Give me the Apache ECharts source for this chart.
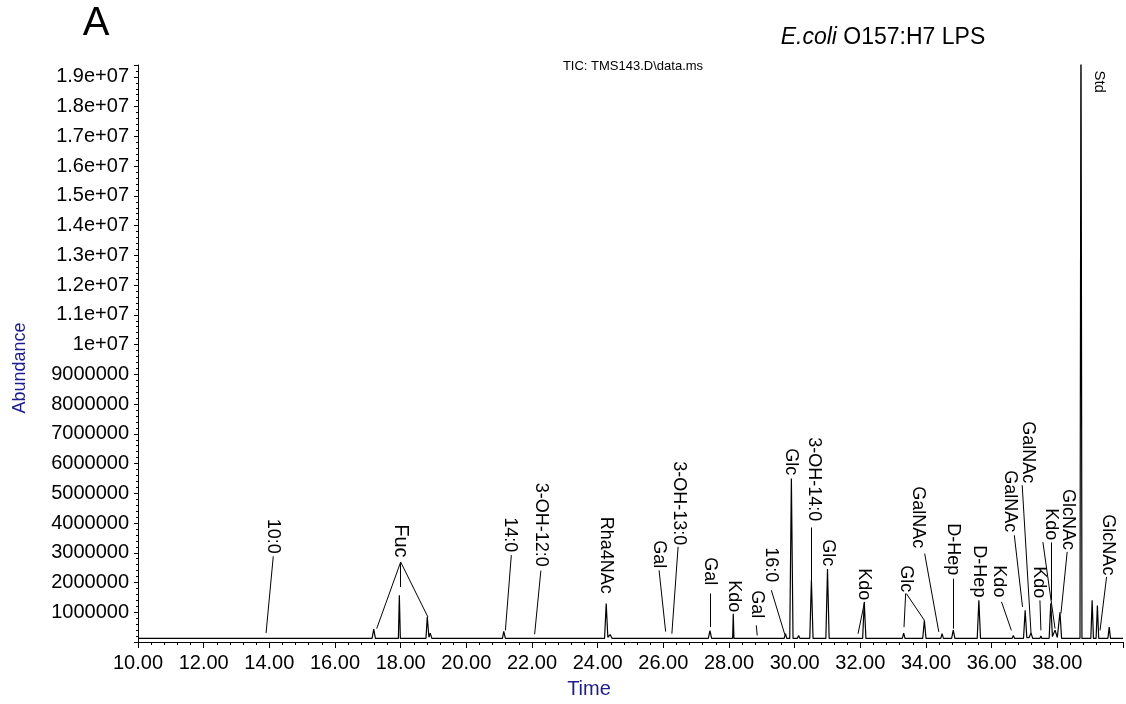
<!DOCTYPE html>
<html>
<head>
<meta charset="utf-8">
<title>E.coli O157:H7 LPS TIC</title>
<script src="https://cdn.jsdelivr.net/npm/echarts@6.0.0/dist/echarts.min.js"></script>
<style>
  html, body { margin: 0; padding: 0; background: #ffffff; }
  #chart { width: 1126px; height: 704px; }
</style>
</head>
<body>
<div id="chart"></div>
<script>
// ---- Data (time in min, abundance in counts) ----
const tracePoints = [
  [10.00, 1.2e5], [10.65, 1.2e5], [10.68, 1.6e5], [10.71, 1.2e5],
  [13.79, 1.2e5], [13.84, 1.7e5], [13.89, 1.2e5],
  [14.93, 1.2e5], [14.96, 1.6e5], [14.99, 1.2e5],
  [17.13, 1.2e5], [17.18, 4.3e5], [17.23, 1.2e5],
  [17.93, 1.2e5], [17.96, 1.57e6], [17.99, 1.2e5],
  [18.77, 1.2e5], [18.81, 8.4e5], [18.86, 1.6e5], [18.90, 3.0e5], [18.95, 1.2e5],
  [19.79, 1.2e5], [19.82, 1.6e5], [19.85, 1.2e5],
  [21.10, 1.2e5], [21.14, 3.6e5], [21.19, 1.2e5],
  [22.07, 1.2e5], [22.10, 1.5e5], [22.13, 1.2e5],
  [22.55, 1.2e5], [22.58, 1.6e5], [22.61, 1.2e5],
  [24.21, 1.2e5], [24.26, 1.29e6], [24.31, 1.6e5], [24.38, 2.5e5], [24.44, 1.2e5],
  [26.02, 1.2e5], [26.06, 1.6e5], [26.10, 1.2e5],
  [26.20, 1.2e5], [26.24, 1.4e5], [26.28, 1.2e5],
  [27.37, 1.2e5], [27.42, 3.8e5], [27.47, 1.2e5],
  [28.11, 1.2e5], [28.13, 9.5e5], [28.15, 1.2e5],
  [28.83, 1.2e5], [28.87, 1.7e5], [28.91, 1.2e5],
  [29.68, 1.2e5], [29.72, 2.8e5], [29.76, 1.2e5],
  [29.85, 1.2e5], [29.90, 5.5e6], [29.95, 1.2e5],
  [30.08, 1.2e5], [30.12, 2.2e5], [30.16, 1.2e5],
  [30.46, 1.2e5], [30.51, 2.08e6], [30.56, 1.2e5],
  [30.95, 1.2e5], [31.00, 2.45e6], [31.05, 1.2e5],
  [31.87, 1.2e5], [31.90, 1.5e5], [31.93, 1.2e5],
  [32.07, 1.2e5], [32.12, 1.34e6], [32.17, 1.2e5],
  [33.28, 1.2e5], [33.32, 3.0e5], [33.36, 1.2e5],
  [33.90, 1.2e5], [33.95, 7.3e5], [34.00, 1.2e5],
  [34.45, 1.2e5], [34.49, 2.8e5], [34.53, 1.2e5],
  [34.78, 1.2e5], [34.83, 4.0e5], [34.88, 1.2e5],
  [35.56, 1.2e5], [35.61, 1.4e6], [35.66, 1.2e5],
  [36.62, 1.2e5], [36.66, 2.2e5], [36.70, 1.2e5],
  [36.97, 1.2e5], [37.02, 1.07e6], [37.07, 1.5e5], [37.14, 1.5e5], [37.20, 3.0e5], [37.25, 1.2e5],
  [37.47, 1.2e5], [37.50, 2.0e5], [37.53, 1.2e5],
  [37.75, 1.2e5], [37.80, 1.3e6], [37.85, 1.8e5], [37.93, 4.0e5], [38.00, 1.5e5], [38.08, 1.0e6], [38.13, 1.2e5],
  [38.69, 1.2e5], [38.72, 2.2e7], [38.75, 1.2e5],
  [39.02, 1.2e5], [39.06, 1.4e6], [39.10, 1.2e5],
  [39.18, 1.2e5], [39.22, 1.23e6], [39.26, 1.2e5],
  [39.54, 1.2e5], [39.58, 5.0e5], [39.62, 1.2e5],
  [40.00, 1.2e5]
];

// Peak annotation labels: text, time of label centre, abundance at label foot
const labelText = ['10:0', 'Fuc', '14:0', '3-OH-12:0', 'Rha4NAc', 'Gal', '3-OH-13:0', 'Gal', 'Kdo', 'Gal',
  '16:0', 'Glc', '3-OH-14:0', 'Glc', 'Kdo', 'Glc', 'GalNAc', 'D-Hep', 'D-Hep', 'Kdo',
  'GalNAc', 'GalNAc', 'Kdo', 'Kdo', 'GlcNAc', 'Std', 'GlcNAc'];
const labelTime = [14.10, 18.00, 21.33, 22.26, 24.26, 25.86, 26.48, 27.43, 28.16, 28.84,
  29.28, 29.90, 30.58, 31.00, 32.10, 33.38, 33.77, 34.83, 35.61, 36.21,
  36.55, 37.12, 37.44, 37.80, 38.33, 39.28, 39.53];
const labelFoot = [2.97e6, 2.84e6, 3.02e6, 2.53e6, 1.62e6, 2.48e6, 3.25e6, 1.91e6, 1.00e6, 0.80e6,
  2.01e6, 5.61e6, 4.06e6, 2.55e6, 1.40e6, 1.67e6, 3.15e6, 2.24e6, 1.50e6, 1.50e6,
  3.69e6, 5.34e6, 1.47e6, 3.42e6, 3.09e6, 18.46e6, 2.24e6];

// Leader lines from labels to peaks: [t1, a1, t2, a2]
const leaderLines = [
  [14.12, 2.88e6, 13.90, 0.30e6],
  [18.00, 2.69e6, 17.27, 0.45e6],
  [18.00, 2.69e6, 18.00, 1.85e6],
  [18.00, 2.69e6, 18.83, 0.84e6],
  [21.37, 2.92e6, 21.19, 0.39e6],
  [22.27, 2.40e6, 22.08, 0.26e6],
  [25.87, 2.41e6, 26.07, 0.35e6],
  [26.45, 3.20e6, 26.26, 0.28e6],
  [27.43, 1.63e6, 27.43, 0.50e6],
  [28.83, 0.56e6, 28.86, 0.22e6],
  [29.29, 1.74e6, 29.70, 0.25e6],
  [30.51, 3.85e6, 30.51, 2.08e6],
  [32.13, 1.35e6, 31.93, 0.28e6],
  [33.38, 1.63e6, 33.33, 0.50e6],
  [33.40, 1.63e6, 33.95, 0.73e6],
  [33.96, 2.97e6, 34.39, 0.34e6],
  [34.83, 2.13e6, 34.83, 0.45e6],
  [36.30, 1.35e6, 36.60, 0.39e6],
  [36.69, 3.59e6, 36.94, 1.18e6],
  [36.93, 5.27e6, 37.20, 0.28e6],
  [37.47, 1.40e6, 37.50, 0.39e6],
  [37.80, 3.35e6, 37.80, 1.40e6],
  [37.56, 3.36e6, 37.93, 0.45e6],
  [38.30, 3.03e6, 38.11, 0.96e6],
  [39.50, 2.19e6, 39.30, 0.39e6]
];

const xTickFormat = 2;      // decimals on time ticks
const FONT = 'Liberation Sans, Arial, sans-serif';
const AXIS_BLUE = '#1c1c8c';

function yLabel(v) {
  if (v <= 0 || v % 1e6 !== 0) return '';
  if (v >= 1e7) {
    return (v / 1e7).toString() + 'e+07';
  }
  return String(v);
}

const chart = echarts.init(document.getElementById('chart'), null, { renderer: 'canvas' });

const option = {
  animation: false,
  backgroundColor: '#ffffff',
  textStyle: { fontFamily: FONT },
  grid: { left: 138, right: 3, top: 65, bottom: 62, containLabel: false },
  xAxis: {
    type: 'value',
    min: 10, max: 40, interval: 2,
    axisLine: { show: true, lineStyle: { color: '#000', width: 1 } },
    axisTick: { show: true, length: 6, inside: false, lineStyle: { color: '#000' } },
    minorTick: { show: true, splitNumber: 5, length: 3, lineStyle: { color: '#000' } },
    splitLine: { show: false },
    axisLabel: {
      show: true, color: '#000', fontSize: 20, fontFamily: FONT, margin: 11,
      showMaxLabel: false, hideOverlap: false,
      formatter: function (v) { return v.toFixed(xTickFormat); }
    }
  },
  yAxis: {
    type: 'value',
    min: 0, max: 19.4e6, interval: 1e6,
    axisLine: { show: true, lineStyle: { color: '#000', width: 1 } },
    axisTick: { show: true, length: 4, lineStyle: { color: '#000' } },
    minorTick: { show: true, splitNumber: 5, length: 2, lineStyle: { color: '#000' } },
    splitLine: { show: false },
    axisLabel: {
      show: true, color: '#000', fontSize: 20, fontFamily: FONT, margin: 9,
      hideOverlap: false, showMaxLabel: false,
      formatter: yLabel
    }
  },
  graphic: [
    { type: 'text', x: 96, y: 24, silent: true,
      style: { text: 'A', fill: '#000', font: '40px ' + FONT, align: 'center', verticalAlign: 'middle' } },
    { type: 'text', x: 883, y: 38, silent: true,
      style: {
        text: '{i|E.coli} O157:H7 LPS', fill: '#000', font: '23px ' + FONT,
        align: 'center', verticalAlign: 'middle',
        rich: { i: { fontStyle: 'italic', fontSize: 23, fontFamily: FONT, fill: '#000' } }
      } },
    { type: 'text', x: 633, y: 66, silent: true,
      style: { text: 'TIC: TMS143.D\\data.ms', fill: '#000', font: '13px ' + FONT, align: 'center', verticalAlign: 'middle' } },
    { type: 'text', x: 20, y: 368, rotation: Math.PI / 2, silent: true,
      style: { text: 'Abundance', fill: AXIS_BLUE, font: '18px ' + FONT, align: 'center', verticalAlign: 'middle' } },
    { type: 'text', x: 589, y: 689, silent: true,
      style: { text: 'Time', fill: AXIS_BLUE, font: '20px ' + FONT, align: 'center', verticalAlign: 'middle' } }
  ],
  series: [
    {
      type: 'line',
      name: 'TIC',
      data: tracePoints,
      showSymbol: false,
      symbol: 'none',
      sampling: undefined,
      clip: true,
      silent: true,
      z: 3,
      lineStyle: { color: '#000', width: 1.2 }
    },
    {
      type: 'lines',
      coordinateSystem: 'cartesian2d',
      silent: true,
      z: 4,
      lineStyle: { color: '#000', width: 1, opacity: 1, curveness: 0 },
      data: leaderLines.map(function (l) { return { coords: [[l[0], l[1]], [l[2], l[3]]] }; })
    },
    {
      type: 'custom',
      coordinateSystem: 'cartesian2d',
      silent: true,
      clip: false,
      z: 5,
      data: labelTime.map(function (t, i) { return [t, labelFoot[i]]; }),
      renderItem: function (params, api) {
        const p = api.coord([api.value(0), api.value(1)]);
        const txt = labelText[params.dataIndex];
        const size = txt === 'Fuc' ? 20 : (txt === 'Std' ? 15 : 18);
        return {
          type: 'text',
          x: p[0], y: p[1],
          rotation: -Math.PI / 2,
          style: {
            text: txt, fill: '#000', fontSize: size, fontFamily: FONT,
            align: 'right', verticalAlign: 'middle'
          }
        };
      }
    }
  ]
};

chart.setOption(option);
</script>
</body>
</html>
